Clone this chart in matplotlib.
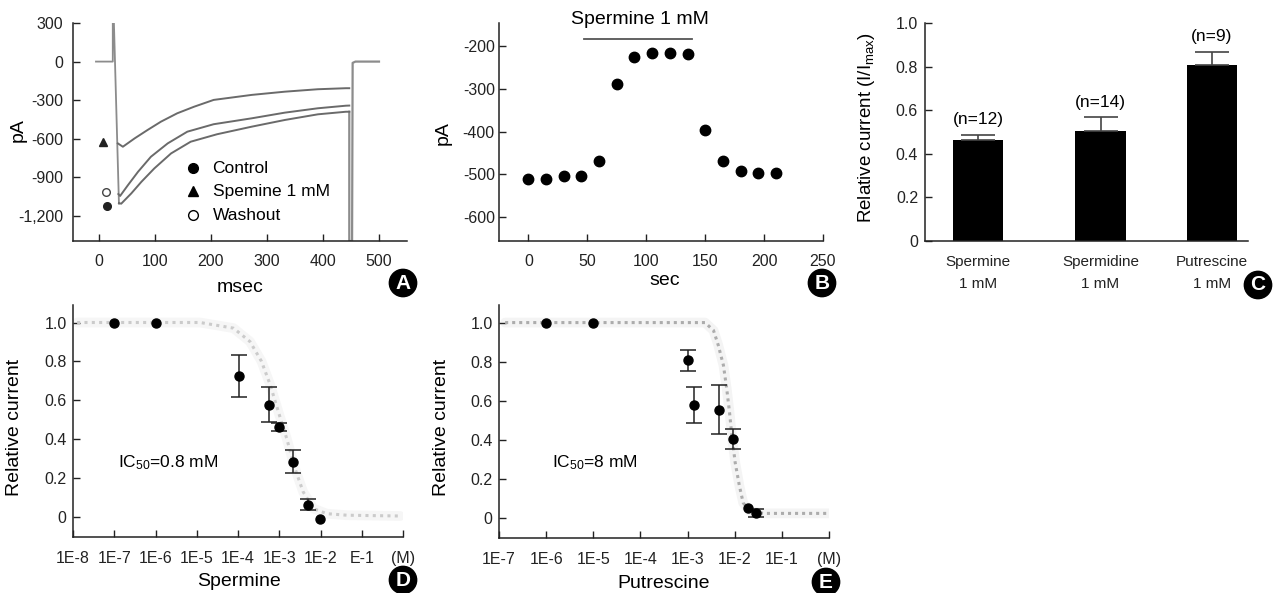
import numpy as np
import matplotlib
matplotlib.use('Agg')
import matplotlib.pyplot as plt

plt.rcParams['font.family'] = ['Liberation Sans', 'DejaVu Sans']
plt.rcParams['axes.unicode_minus'] = False

# ---- panel A: current traces (msec, pA) ----
lead_t = [-5, 25, 25, 27, 36]
lead_i = [0, 0, 300, 300, -1105]
tail_t = [447, 447, 452, 453, 458, 500]
tail_i = [-390, -1395, -1395, -10, 0, 0]

sperm_t = [34, 43, 64, 87, 111, 140, 170, 205, 273, 332, 391, 441, 447]
sperm_i = [-636, -662, -597, -532, -467, -402, -351, -298, -259, -234, -215, -207, -207]
wash_t = [35, 38, 52, 70, 93, 123, 158, 205, 273, 332, 391, 441, 447]
wash_i = [-1030, -1045, -961, -857, -740, -636, -545, -487, -441, -397, -363, -343, -342]
ctrl_t = [36, 40, 58, 76, 99, 129, 164, 211, 273, 332, 391, 441, 447]
ctrl_i = [-1100, -1105, -1025, -935, -831, -714, -623, -565, -506, -454, -410, -390, -390]

legend_labels = ['Control', 'Spemine 1 mM', 'Washout']

# ---- panel B: time course ----
time_s = [0, 15, 30, 45, 60, 75, 90, 105, 120, 135, 150, 165, 180, 195, 210]
peak_pA = [-511, -512, -505, -504, -468, -289, -226, -216, -216, -219, -396, -468, -493, -498, -496]
sperm_on = [47.5, 139]

# ---- panel C: bars ----
bar_names = ['Spermine\n1 mM', 'Spermidine\n1 mM', 'Putrescine\n1 mM']
bar_vals = [0.463, 0.505, 0.808]
bar_err = [0.023, 0.062, 0.059]
bar_n = ['(n=12)', '(n=14)', '(n=9)']

# ---- panel D: spermine dose response ----
spm_conc = [1e-7, 1e-6, 1.07e-4, 5.6e-4, 1e-3, 2.14e-3, 5.1e-3, 9.8e-3]
spm_rel = [1.0, 1.0, 0.725, 0.577, 0.462, 0.284, 0.064, -0.008]
spm_err = [0, 0, 0.108, 0.09, 0.021, 0.06, 0.03, 0]
spm_fit_logx = [-7.9, -5.5, -4.92, -4.11, -3.71, -3.43, -3.22, -3.02, -2.82, -2.62, -2.42, -2.17, -1.85, -1.36, -0.07]
spm_fit_y = [1.0, 1.0, 1.0, 0.971, 0.902, 0.80, 0.68, 0.54, 0.404, 0.25, 0.129, 0.043, 0.017, 0.009, 0.005]

# ---- panel E: putrescine dose response ----
put_conc = [1e-6, 1e-5, 1e-3, 1.38e-3, 4.7e-3, 9.3e-3, 1.96e-2, 2.8e-2]
put_rel = [1.0, 1.0, 0.807, 0.578, 0.554, 0.404, 0.052, 0.023]
put_err = [0, 0, 0.053, 0.09, 0.125, 0.053, 0, 0.02]
put_fit_logx = [-6.87, -2.63, -2.45, -2.35, -2.24, -2.17, -2.11, -2.06, -1.99, -1.90, -1.82, -1.68, -1.39, 0.0]
put_fit_y = [1.0, 1.0, 0.96, 0.885, 0.782, 0.662, 0.54, 0.42, 0.283, 0.163, 0.077, 0.035, 0.023, 0.023]

W, H = 1278, 593
fig = plt.figure(figsize=(W / 100, H / 100), dpi=100)


def box(l, t, r, b):
    return [l / W, 1 - b / H, (r - l) / W, (b - t) / H]


def style(ax, xpad=9, ypad=7):
    for s in ['top', 'right']:
        ax.spines[s].set_visible(False)
    for s in ['left', 'bottom']:
        ax.spines[s].set_linewidth(1.1)
        ax.spines[s].set_color('#222222')
    ax.tick_params(direction='in', length=5, width=1, colors='#222222', labelsize=11.5)
    ax.tick_params(axis='x', pad=xpad)
    ax.tick_params(axis='y', pad=ypad)


def letter(x, y, s):
    fig.text(x / W, 1 - y / H, s, color='white', fontsize=15, fontweight='bold',
             ha='center', va='center',
             bbox=dict(boxstyle='circle,pad=0.2', fc='black', ec='black'))


def dose_points(ax, conc, rel, err):
    ax.plot(conc, rel, 'o', color='black', ms=6.5, zorder=4)
    cx = [c for c, e in zip(conc, err) if e > 0]
    cy = [r for r, e in zip(rel, err) if e > 0]
    ce = [e for e in err if e > 0]
    ax.errorbar(cx, cy, yerr=ce, fmt='none', ecolor='#222222', elinewidth=1.1,
                capsize=6, capthick=1.1, zorder=3)


LBL = 14

# ---------- A ----------
axA = fig.add_axes(box(73, 23, 407, 241))
style(axA)
tr_col = '#6a6a6a'
axA.plot(lead_t, lead_i, color='#8c8c8c', lw=1.3)
axA.plot(tail_t, tail_i, color='#8c8c8c', lw=1.6)
axA.plot(sperm_t, sperm_i, color=tr_col, lw=1.4)
axA.plot(wash_t, wash_i, color=tr_col, lw=1.4)
axA.plot(ctrl_t, ctrl_i, color=tr_col, lw=1.4)
axA.plot([15], [-1124], 'o', color='#222222', ms=5.5)
axA.plot([8], [-628], '^', color='#222222', ms=5.5)
axA.plot([12], [-1013], 'o', mfc='white', mec='#444444', ms=5.5)
leg_y = [-830, -1008, -1195]
axA.plot([168], [leg_y[0]], 'o', color='black', ms=7)
axA.plot([168], [leg_y[1]], '^', color='black', ms=7)
axA.plot([168], [leg_y[2]], 'o', mfc='white', mec='black', ms=7, mew=1)
for yy, lab in zip(leg_y, legend_labels):
    axA.text(203, yy, lab, fontsize=12.5, va='center', ha='left')
axA.set_xlim(-46, 550)
axA.set_ylim(-1395, 300)
axA.set_xticks([0, 100, 200, 300, 400, 500])
axA.set_yticks([300, 0, -300, -600, -900, -1200])
axA.set_yticklabels(['300', '0', '-300', '-600', '-900', '-1,200'])
axA.set_ylabel('pA', fontsize=LBL)
axA.yaxis.set_label_coords(-0.138, 0.51)
axA.set_xlabel('msec', fontsize=LBL, va='baseline')
axA.xaxis.set_label_coords(0.5, -0.235)

# ---------- B ----------
axB = fig.add_axes(box(499, 23, 823, 241))
style(axB, ypad=3)
axB.plot(time_s, peak_pA, 'o', color='black', ms=7.5)
axB.plot(sperm_on, [-184, -184], color='#555555', lw=1.3)
axB.text(0.435, 1.014, 'Spermine 1 mM', transform=axB.transAxes, fontsize=14,
         ha='center', va='center')
axB.set_xlim(-25, 250)
axB.set_ylim(-656, -146)
axB.set_xticks([0, 50, 100, 150, 200, 250])
axB.set_yticks([-200, -300, -400, -500, -600])
axB.set_ylabel('pA', fontsize=LBL)
axB.yaxis.set_label_coords(-0.145, 0.495)
axB.set_xlabel('sec', fontsize=LBL, va='baseline')
axB.xaxis.set_label_coords(0.512, -0.2)

# ---------- C ----------
axC = fig.add_axes(box(925, 23, 1248, 241))
style(axC, xpad=10, ypad=5)
xpos = [0, 1.0, 1.91]
axC.bar(xpos, bar_vals, width=0.41, color='black')
axC.errorbar(xpos, bar_vals, yerr=[[0, 0, 0], bar_err], fmt='none', ecolor='#444444',
             elinewidth=1.2, capsize=12, capthick=1.2)
for x, v, e, n in zip(xpos, bar_vals, bar_err, bar_n):
    axC.text(x, v + e + 0.07, n, fontsize=12.5, ha='center', va='center')
axC.set_xlim(-0.433, 2.204)
axC.set_ylim(0, 1.0)
axC.set_xticks(xpos)
axC.set_xticklabels(bar_names, fontsize=11, linespacing=1.7)
axC.tick_params(axis='x', length=0)
axC.set_yticks([0, 0.2, 0.4, 0.6, 0.8, 1.0])
axC.set_yticklabels(['0', '0.2', '0.4', '0.6', '0.8', '1.0'])
axC.set_ylabel('Relative current (I/I$\\mathregular{_{max}}$)', fontsize=13.5)
axC.yaxis.set_label_coords(-0.149, 0.52)

# ---------- D ----------
axD = fig.add_axes(box(73, 305, 403, 537))
style(axD, xpad=10, ypad=4.5)
fx = 10 ** np.array(spm_fit_logx)
axD.plot(fx, spm_fit_y, color='#f6f6f6', lw=7, solid_capstyle='round', zorder=1)
axD.plot(fx, spm_fit_y, color='#cbcbcb', lw=2.2, ls=(0, (1, 1.4)), zorder=2)
dose_points(axD, spm_conc, spm_rel, spm_err)
axD.set_xscale('log')
axD.set_xlim(1e-8, 1e0)
axD.set_ylim(-0.103, 1.09)
axD.set_xticks([10.0 ** k for k in range(-8, 1)])
axD.set_xticklabels(['1E-8', '1E-7', '1E-6', '1E-5', '1E-4', '1E-3', '1E-2', 'E-1', '(M)'])
axD.minorticks_off()
axD.set_yticks([0, 0.2, 0.4, 0.6, 0.8, 1.0])
axD.set_yticklabels(['0', '0.2', '0.4', '0.6', '0.8', '1.0'])
axD.text(0.136, 0.319, 'IC$\\mathregular{_{50}}$=0.8 mM', transform=axD.transAxes,
         fontsize=12.5, va='center', ha='left')
axD.set_ylabel('Relative current', fontsize=LBL)
axD.yaxis.set_label_coords(-0.152, 0.474)
axD.set_xlabel('Spermine', fontsize=LBL, va='baseline')
axD.xaxis.set_label_coords(0.503, -0.21)

# ---------- E ----------
axE = fig.add_axes(box(499, 305, 829, 538))
style(axE, xpad=10, ypad=4.5)
fx = 10 ** np.array(put_fit_logx)
axE.plot(fx, put_fit_y, color='#f4f4f4', lw=7, solid_capstyle='round', zorder=1)
axE.plot(fx, put_fit_y, color='#acacac', lw=2.2, ls=(0, (1, 1.3)), zorder=2)
dose_points(axE, put_conc, put_rel, put_err)
axE.set_xscale('log')
axE.set_xlim(1e-7, 1e0)
axE.set_ylim(-0.103, 1.09)
axE.set_xticks([10.0 ** k for k in range(-7, 1)])
axE.set_xticklabels(['1E-7', '1E-6', '1E-5', '1E-4', '1E-3', '1E-2', '1E-1', '(M)'])
axE.minorticks_off()
axE.set_yticks([0, 0.2, 0.4, 0.6, 0.8, 1.0])
axE.set_yticklabels(['0', '0.2', '0.4', '0.6', '0.8', '1.0'])
axE.text(0.16, 0.322, 'IC$\\mathregular{_{50}}$=8 mM', transform=axE.transAxes,
         fontsize=12.5, va='center', ha='left')
axE.set_ylabel('Relative current', fontsize=LBL)
axE.yaxis.set_label_coords(-0.148, 0.474)
axE.set_xlabel('Putrescine', fontsize=LBL, va='baseline')
axE.xaxis.set_label_coords(0.5, -0.215)

letter(403, 283, 'A')
letter(822, 283, 'B')
letter(1258, 285, 'C')
letter(403, 580, 'D')
letter(826, 582, 'E')

fig.savefig('out.png', dpi=100)
